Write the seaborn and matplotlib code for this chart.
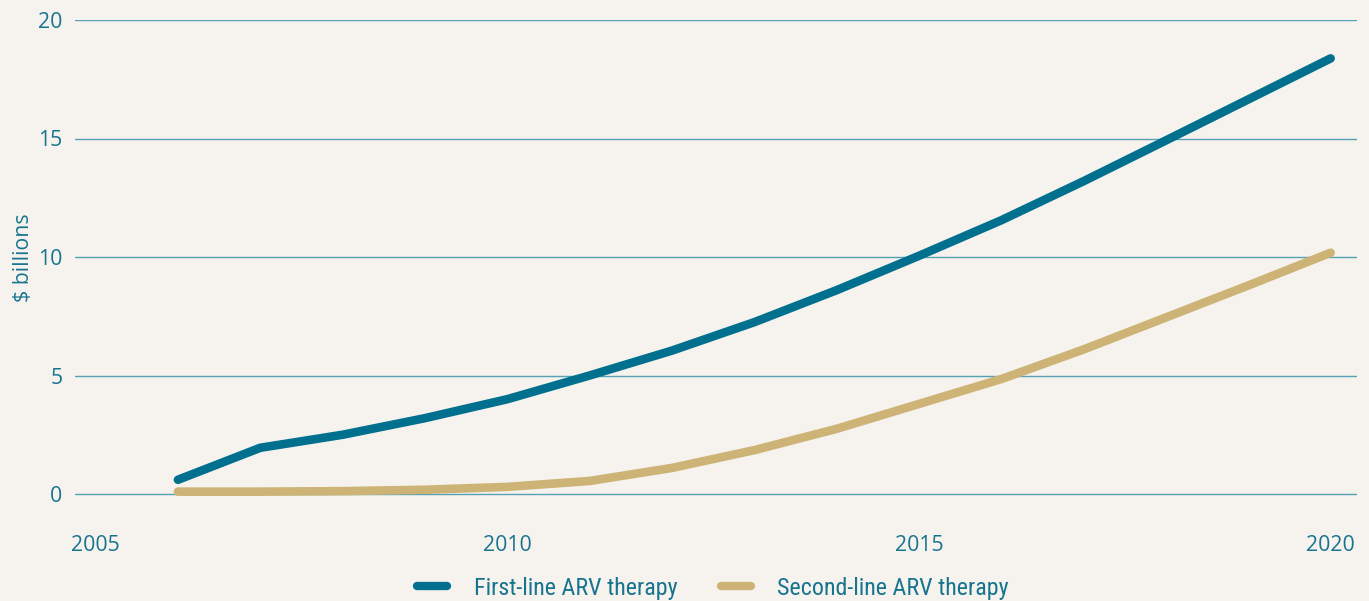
import numpy as np
import pandas as pd
import matplotlib
matplotlib.use("Agg")
import matplotlib.pyplot as plt
import seaborn as sns
from matplotlib.lines import Line2D
from matplotlib import font_manager as fm

years = [2006, 2007, 2008, 2009, 2010, 2011, 2012, 2013, 2014, 2015, 2016, 2017, 2018, 2019, 2020]
first_line = [0.6, 1.95, 2.5, 3.2, 4.0, 5.0, 6.05, 7.25, 8.6, 10.05, 11.55, 13.2, 14.92, 16.65, 18.38]
second_line = [0.1, 0.1, 0.12, 0.18, 0.3, 0.55, 1.1, 1.85, 2.75, 3.8, 4.85, 6.1, 7.45, 8.8, 10.18]
series_names = ["First-line ARV therapy", "Second-line ARV therapy"]
x_ticks = [2005, 2010, 2015, 2020]
y_ticks = [0, 5, 10, 15, 20]

BG = "#F6F3EE"
TEAL = "#00708E"
TAN = "#CDB476"
TXT = "#17748F"
GRID = "#3A93AB"

names = sorted({f.name for f in fm.fontManager.ttflist})
narrow = None
for cand in ["Liberation Sans Narrow", "DejaVu Sans Condensed", "Roboto Condensed", "Open Sans Condensed"]:
    if cand in names:
        narrow = cand
        break

df = pd.DataFrame({
    "year": years * 2,
    "value": first_line + second_line,
    "series": [series_names[0]] * len(years) + [series_names[1]] * len(years),
})

sns.set_theme(style="white")
plt.rcParams["font.family"] = ["Open Sans", "DejaVu Sans"]

fig = plt.figure(figsize=(13.69, 6.01), dpi=100, facecolor=BG)
y0 = -0.1
ppu = (494 - 20) / 20.0
ax_bottom_px = 494 + (0 - y0) * ppu
ax = fig.add_axes([75 / 1369, 1 - ax_bottom_px / 601, (1357 - 75) / 1369, (ax_bottom_px - 20) / 601])
ax.set_facecolor(BG)

palette = {series_names[0]: TEAL, series_names[1]: TAN}
sns.lineplot(data=df, x="year", y="value", hue="series", palette=palette,
             linewidth=6.2, ax=ax, legend=False)
for ln in ax.lines:
    ln.set_solid_capstyle("round")
    ln.set_solid_joinstyle("round")
    ln.set_clip_on(False)

ax.set_xlim(2004.75, 2020.32)
ax.set_ylim(y0, 20)
ax.set_xticks(x_ticks)
ax.set_yticks(y_ticks)
ax.set_xticklabels([str(t) for t in x_ticks])
ax.set_yticklabels([str(t) for t in y_ticks])
ax.grid(axis="y", color=GRID, linewidth=1.0, alpha=0.85)
ax.set_axisbelow(True)
for s in ax.spines.values():
    s.set_visible(False)
ax.tick_params(axis="both", length=0, colors=TXT, labelsize=15.3)
ax.tick_params(axis="x", pad=28)
ax.tick_params(axis="y", pad=9)
ax.set_xlabel("")
ax.set_ylabel("$ billions", color=TXT, fontsize=15.3, labelpad=3)

handles = [Line2D([0], [0], color=TEAL, lw=6, solid_capstyle="round"),
           Line2D([0], [0], color=TAN, lw=6, solid_capstyle="round")]
leg_fam = [narrow, "DejaVu Sans"] if narrow else ["Open Sans", "DejaVu Sans"]
leg_size = 17.3 if narrow else 13.5
leg = fig.legend(handles, series_names, loc="center", bbox_to_anchor=(713 / 1369, 1 - 588 / 601),
                 ncol=2, frameon=False, prop={"family": leg_fam, "size": leg_size},
                 handlelength=1.25, columnspacing=1.8, handletextpad=1.1)
for t in leg.get_texts():
    t.set_color(TXT)

fig.savefig("out.png", dpi=100, facecolor=BG)
